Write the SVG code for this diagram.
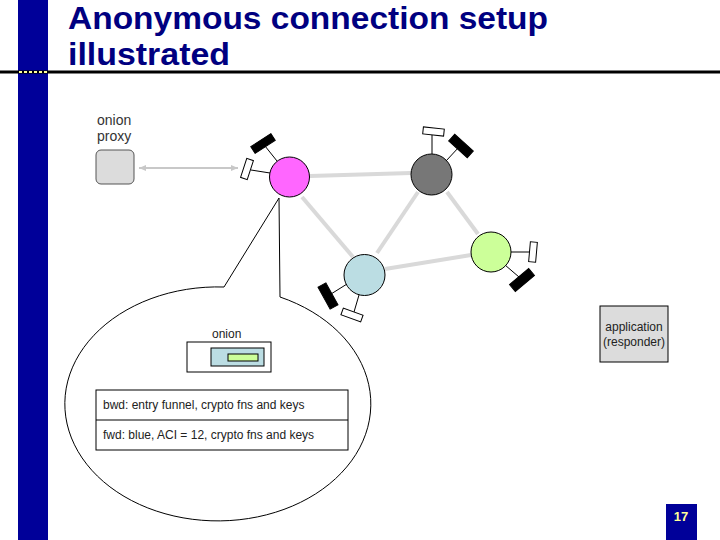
<svg xmlns="http://www.w3.org/2000/svg" width="720" height="540" viewBox="0 0 720 540">
<style>
.title{font-family:"Liberation Sans",Arial,sans-serif;font-weight:bold;font-size:31px;fill:#000080}
.lbl{font-family:"Liberation Sans",Arial,sans-serif;font-size:12px;fill:#222}
.lbl14{font-family:"Liberation Sans",Arial,sans-serif;font-size:14px;fill:#333}
.edge{stroke:#d9d9d9;stroke-width:4;fill:none}
.stem{stroke:#000;stroke-width:1;fill:none}
.blk{fill:#000;stroke:#000;stroke-width:1}
.wht{fill:#fff;stroke:#000;stroke-width:1}
.node{stroke:#000;stroke-width:1}
.thin{stroke:#000;stroke-width:1;fill:none}
</style>
<defs>
<marker id="ah" markerWidth="8" markerHeight="8" refX="7" refY="4" orient="auto-start-reverse" markerUnits="userSpaceOnUse">
<path d="M0,1 L7,4 L0,7 Z" fill="#c8c8c8"/>
</marker>
</defs>
<rect width="720" height="540" fill="#fff"/>
<rect x="18" y="0" width="30" height="540" fill="#000099"/>
<line x1="0" y1="72" x2="720" y2="72" stroke="#000" stroke-width="3"/>
<line x1="19" y1="72" x2="48" y2="72" stroke="#ffff99" stroke-width="2" stroke-dasharray="3,2"/>
<text class="title" x="68" y="29" textLength="480" lengthAdjust="spacingAndGlyphs">Anonymous connection setup</text>
<text class="title" x="68" y="65" textLength="162" lengthAdjust="spacingAndGlyphs">illustrated</text>

<g id="connectors">
<line class="edge" x1="310" y1="176" x2="411" y2="173"/>
<line class="edge" x1="302" y1="197" x2="353" y2="257"/>
<line class="edge" x1="377" y1="253" x2="418" y2="192"/>
<line class="edge" x1="447" y1="192" x2="478" y2="234"/>
<line class="edge" x1="385" y1="269" x2="471" y2="255"/>
<line x1="139" y1="168" x2="238" y2="168" stroke="#c8c8c8" stroke-width="2" marker-start="url(#ah)" marker-end="url(#ah)"/>
<path class="thin" d="M224,287 L279,198 L280,297 A153 117 0 1 1 224,287"/>
</g>

<g id="onion-proxy">
<text class="lbl14" x="97" y="125">onion</text>
<text class="lbl14" x="97" y="141">proxy</text>
<rect x="96" y="150" width="38" height="34" rx="5" fill="#dcdcdc" stroke="#555" stroke-width="1"/>
</g>

<g id="node-pink">
<line class="stem" x1="277" y1="161" x2="265" y2="146"/>
<rect class="blk" x="251" y="139.5" width="24" height="8" transform="rotate(-33 263 143.5)"/>
<line class="stem" x1="251" y1="170" x2="270" y2="173"/>
<rect class="wht" x="243.5" y="159" width="7" height="20" transform="rotate(18 247 169)"/>
<circle class="node" cx="289.5" cy="177" r="20" fill="#ff66ff"/>
</g>

<g id="node-gray">
<line class="stem" x1="432" y1="135" x2="432" y2="154"/>
<rect class="wht" x="423" y="128" width="21" height="7" transform="rotate(6 433.5 131.5)"/>
<line class="stem" x1="446" y1="161" x2="459" y2="147"/>
<rect class="blk" x="448.5" y="141.5" width="25" height="9" transform="rotate(42 461 146)"/>
<circle class="node" cx="431.5" cy="174.5" r="20.5" fill="#777777"/>
</g>

<g id="node-green">
<line class="stem" x1="511" y1="252" x2="530" y2="252"/>
<rect class="wht" x="529.5" y="242" width="7" height="20" transform="rotate(5 533 252)"/>
<line class="stem" x1="505" y1="265" x2="519" y2="277"/>
<rect class="blk" x="509.5" y="275.5" width="25" height="9" transform="rotate(-40 522 280)"/>
<circle class="node" cx="491" cy="252" r="20" fill="#ccff99"/>
</g>

<g id="node-blue">
<line class="stem" x1="347" y1="284" x2="331" y2="294"/>
<rect class="blk" x="315.5" y="291.5" width="25" height="9" transform="rotate(61 328 296)"/>
<line class="stem" x1="359" y1="295" x2="354" y2="312"/>
<rect class="wht" x="341.5" y="311.5" width="21" height="7" transform="rotate(20 352 315)"/>
<circle class="node" cx="364.5" cy="275" r="20.5" fill="#bbdde3"/>
</g>

<g id="onion">
<text class="lbl" x="212" y="338">onion</text>
<rect x="187" y="342" width="84" height="30" fill="#fff" stroke="#000" stroke-width="1"/>
<rect x="211" y="348" width="53" height="18" fill="#bbdde3" stroke="#000" stroke-width="1"/>
<rect x="228" y="354" width="30" height="7" fill="#ccff99" stroke="#000" stroke-width="1"/>
</g>

<g id="table">
<rect x="96" y="390" width="252" height="60" fill="#fff" stroke="#000" stroke-width="1"/>
<line x1="96" y1="420" x2="348" y2="420" stroke="#000" stroke-width="1"/>
<text class="lbl" x="103" y="409">bwd: entry funnel, crypto fns and keys</text>
<text class="lbl" x="103" y="439">fwd: blue, ACI = 12, crypto fns and keys</text>
</g>

<g id="application">
<rect x="600" y="306" width="68" height="56" fill="#dcdcdc" stroke="#000" stroke-width="1"/>
<text class="lbl" x="634" y="331" text-anchor="middle">application</text>
<text class="lbl" x="634" y="346" text-anchor="middle">(responder)</text>
</g>

<g id="page-number">
<rect x="666" y="504" width="31" height="36" fill="#000099"/>
<text x="681" y="521" text-anchor="middle" font-family="'Liberation Sans',Arial,sans-serif" font-weight="bold" font-size="13" fill="#ffff99">17</text>
</g>
</svg>
